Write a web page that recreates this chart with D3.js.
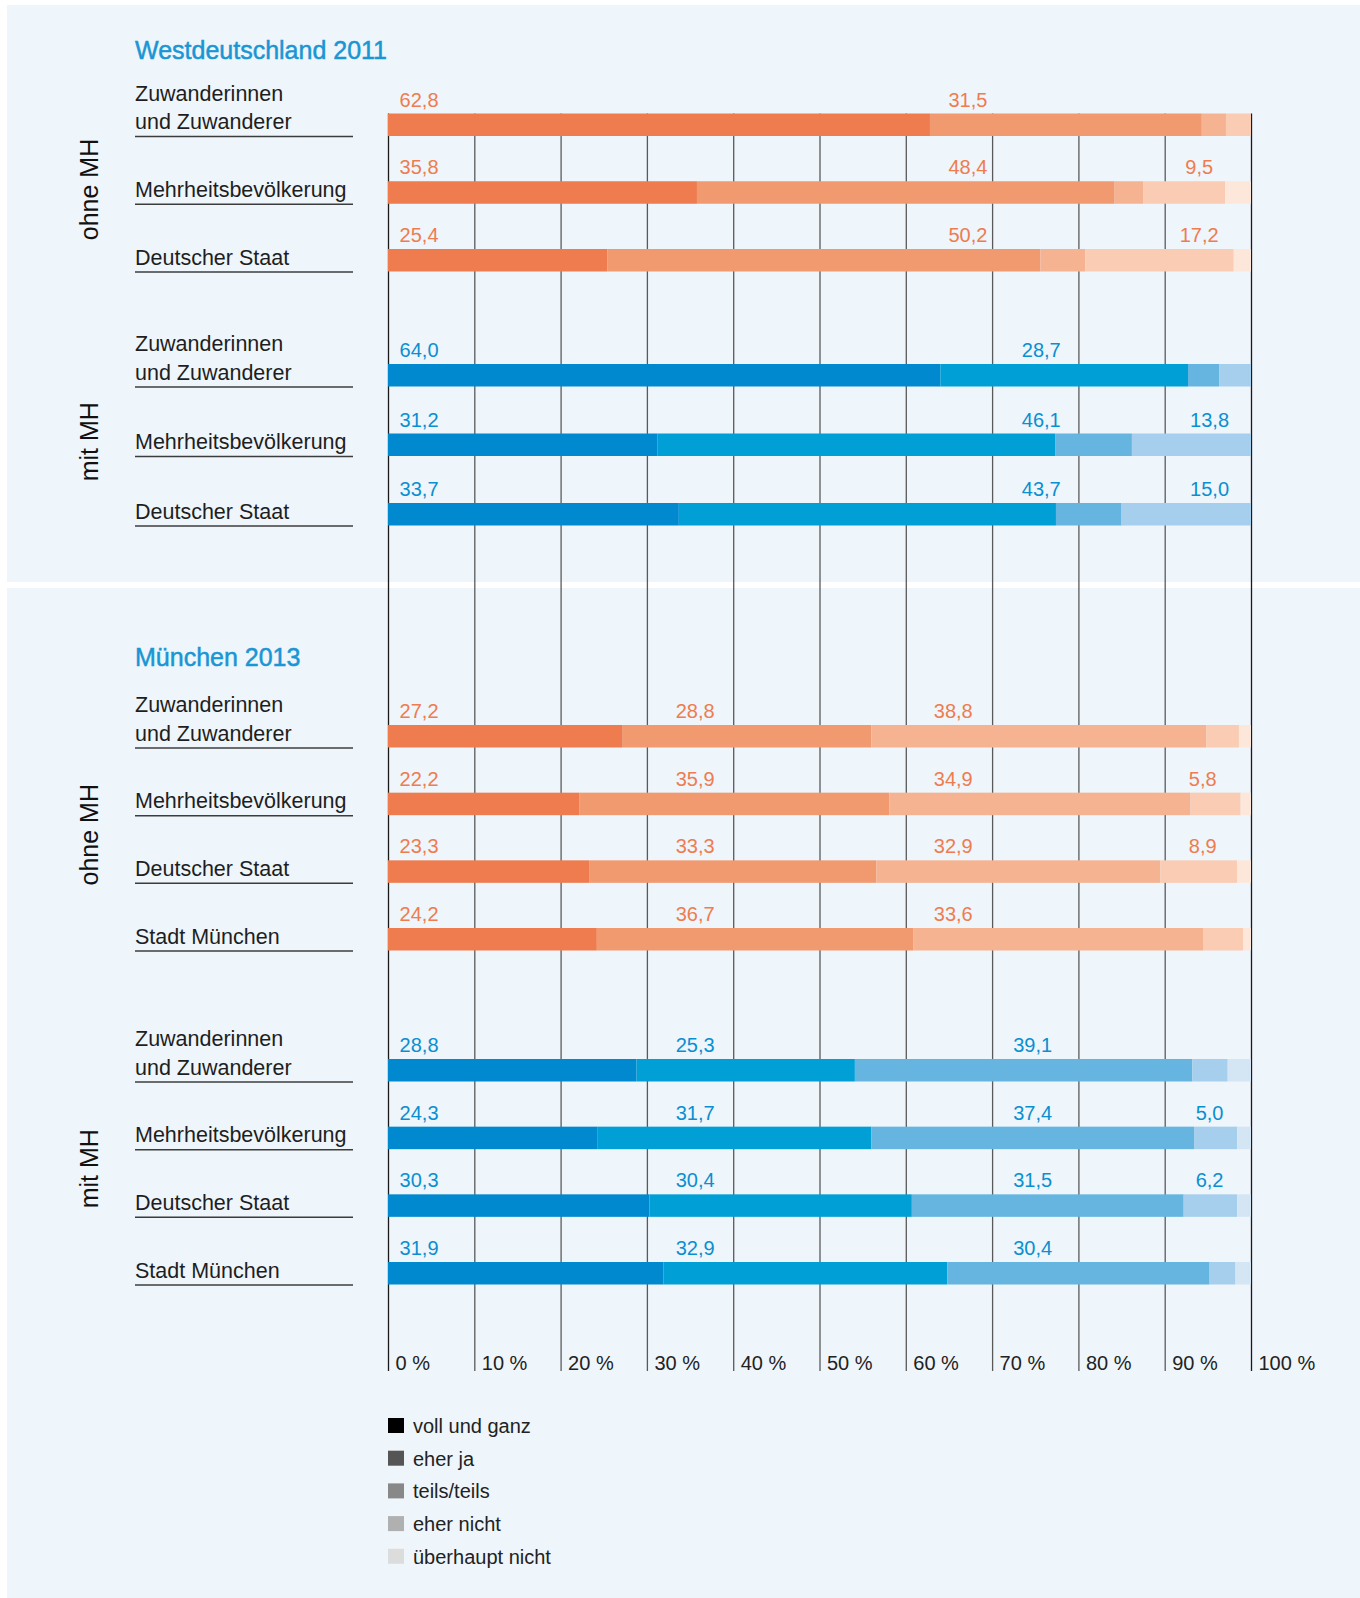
<!DOCTYPE html>
<html>
<head>
<meta charset="utf-8">
<script src="https://cdn.jsdelivr.net/npm/d3@7"></script>
<style>
  body { margin: 0; background: #fff; }
  svg text { font-family: "Liberation Sans", Arial, sans-serif; }
</style>
</head>
<body>
<div id="chart"></div>
<script>

// answer categories (stack order)
var categories = ["voll und ganz", "eher ja", "teils/teils", "eher nicht", "überhaupt nicht"];

// row labels
var westRows = [["Zuwanderinnen", "und Zuwanderer"], ["Mehrheitsbevölkerung"], ["Deutscher Staat"]];
var muenchenRows = [["Zuwanderinnen", "und Zuwanderer"], ["Mehrheitsbevölkerung"], ["Deutscher Staat"], ["Stadt München"]];

// values in % per row: voll, eher ja, teils, eher nicht, überhaupt nicht
var westOhne = [
  [62.8, 31.5, 2.8, 2.9, 0],
  [35.8, 48.4, 3.3, 9.5, 3.0],
  [25.4, 50.2, 5.2, 17.2, 2.0]
];
var westMit = [
  [64.0, 28.7, 3.6, 3.7, 0],
  [31.2, 46.1, 8.9, 13.8, 0],
  [33.7, 43.7, 7.6, 15.0, 0]
];
var muenchenOhne = [
  [27.2, 28.8, 38.8, 3.8, 1.4],
  [22.2, 35.9, 34.9, 5.8, 1.2],
  [23.3, 33.3, 32.9, 8.9, 1.6],
  [24.2, 36.7, 33.6, 4.6, 0.9]
];
var muenchenMit = [
  [28.8, 25.3, 39.1, 4.1, 2.7],
  [24.3, 31.7, 37.4, 5.0, 1.6],
  [30.3, 30.4, 31.5, 6.2, 1.6],
  [31.9, 32.9, 30.4, 3.0, 1.8]
];

var tickValues = [0, 10, 20, 30, 40, 50, 60, 70, 80, 90, 100];

// colours
var orange = ["#ee7c4f", "#f19a70", "#f6b391", "#f9ccb3", "#fde7da"];
var blue = ["#0089cf", "#00a0d7", "#65b5e0", "#a5cfec", "#d4e6f4"];
var grays = ["#000000", "#555555", "#888888", "#b0b0b0", "#dcdcdc"];

var width = 1360;
var height = 1598;
var barH = 22.5;
var labelX = 135;

var svg = d3
  .select("#chart")
  .append("svg")
  .attr("width", width)
  .attr("height", height);

// background panel + white separator
svg.append("rect")
  .attr("x", 7).attr("y", 5)
  .attr("width", width - 7).attr("height", height - 5)
  .attr("fill", "#eef5fb");
svg.append("rect")
  .attr("x", 7).attr("y", 582)
  .attr("width", width - 7).attr("height", 6)
  .attr("fill", "#ffffff");

var xScale = d3.scaleLinear().domain([0, 100]).range([388, 1251]);

// grid / axis
var axisTop = 113.5;
var axisBottom = 1371;
var xAxis = d3.axisBottom(xScale)
  .tickValues(tickValues)
  .tickSize(-(axisBottom - axisTop))
  .tickFormat(function(d) { return d + " %"; });

var gx = svg.append("g")
  .attr("transform", "translate(0," + axisBottom + ")")
  .call(xAxis);
gx.select(".domain").remove();
gx.selectAll(".tick line")
  .attr("stroke", function(d) { return (d === 0 || d === 100) ? "#1a1a1a" : "#5a5a5a"; })
  .attr("stroke-width", 1.3);
gx.selectAll(".tick text")
  .attr("x", 7)
  .attr("y", -1)
  .attr("dy", 0)
  .attr("text-anchor", "start")
  .attr("font-size", 20)
  .attr("fill", "#222");

// section titles (thin stroke to get the medium weight of the original)
[["Westdeutschland 2011", 59], ["München 2013", 666]].forEach(function(t) {
  svg.append("text")
    .attr("x", labelX).attr("y", t[1])
    .attr("font-size", 25)
    .attr("fill", "#1a96d4")
    .attr("stroke", "#1a96d4")
    .attr("stroke-width", 0.5)
    .text(t[0]);
});

var fmt = d3.formatLocale({ decimal: ",", thousands: ".", grouping: [3], currency: ["", " €"] }).format(".1f");

// one entry per bar group; labelPos = where each category's value label sits (in %), null = no label
var groups = [
  { name: "ohne MH", rows: westRows, values: westOhne, colors: orange, textColor: "#ee7c4f",
    top: 113.5, last: 249, labelPos: [3.6, 67.2, null, 94.0, null] },
  { name: "mit MH", rows: westRows, values: westMit, colors: blue, textColor: "#0a8fd1",
    top: 364, last: 503, labelPos: [3.6, 75.7, null, 95.2, null] },
  { name: "ohne MH", rows: muenchenRows, values: muenchenOhne, colors: orange, textColor: "#ee7c4f",
    top: 725, last: 928, labelPos: [3.6, 35.6, 65.5, 94.4, null] },
  { name: "mit MH", rows: muenchenRows, values: muenchenMit, colors: blue, textColor: "#0a8fd1",
    top: 1059, last: 1262, labelPos: [3.6, 35.6, 74.7, 95.2, null] }
];

groups.forEach(function(grp) {
  var yScale = d3.scalePoint()
    .domain(d3.range(grp.rows.length))
    .range([grp.top, grp.last]);

  var g = svg.append("g");

  // stacked segments
  var series = d3.stack()
    .keys(d3.range(categories.length))
    .value(function(d, key) { return d[key]; })(grp.values);

  g.selectAll("g.seg")
    .data(series)
    .enter()
    .append("g")
    .attr("fill", function(s) { return grp.colors[s.key]; })
    .selectAll("rect")
    .data(function(s) { return s; })
    .enter()
    .append("rect")
    .attr("x", function(d) { return xScale(d[0]); })
    .attr("y", function(d, i) { return yScale(i); })
    .attr("width", function(d) { return Math.max(0, xScale(d[1]) - xScale(d[0])); })
    .attr("height", barH);

  // value labels
  grp.values.forEach(function(row, i) {
    row.forEach(function(v, c) {
      if (grp.labelPos[c] === null || v < 5) return;
      g.append("text")
        .attr("x", xScale(grp.labelPos[c]))
        .attr("y", yScale(i) - 7)
        .attr("text-anchor", "middle")
        .attr("font-size", 20)
        .attr("fill", grp.textColor)
        .text(fmt(v));
    });
  });

  // row labels with underline
  grp.rows.forEach(function(lines, i) {
    var base = yScale(i) + barH;
    lines.forEach(function(line, j) {
      g.append("text")
        .attr("x", labelX)
        .attr("y", base - 7 - (lines.length - 1 - j) * 28.5)
        .attr("font-size", 21.5)
        .attr("fill", "#1e1e1e")
        .text(line);
    });
    g.append("line")
      .attr("x1", labelX).attr("x2", 353)
      .attr("y1", base + 0.5).attr("y2", base + 0.5)
      .attr("stroke", "#3c3c3c")
      .attr("stroke-width", 1.5);
  });

  // rotated group label
  var cy = (grp.top + grp.last + barH) / 2 - 3;
  g.append("text")
    .attr("x", 98).attr("y", cy)
    .attr("transform", "rotate(-90,98," + cy + ")")
    .attr("text-anchor", "middle")
    .attr("font-size", 25)
    .attr("fill", "#111")
    .text(grp.name);
});

// legend
var legend = svg.append("g").attr("transform", "translate(388,1418)");
var item = legend.selectAll("g")
  .data(categories)
  .enter()
  .append("g")
  .attr("transform", function(d, i) { return "translate(0," + (i * 32.7) + ")"; });
item.append("rect")
  .attr("width", 16).attr("height", 15)
  .attr("fill", function(d, i) { return grays[i]; });
item.append("text")
  .attr("x", 25).attr("y", 15)
  .attr("font-size", 20)
  .attr("fill", "#222")
  .text(function(d) { return d; });

</script>
</body>
</html>
